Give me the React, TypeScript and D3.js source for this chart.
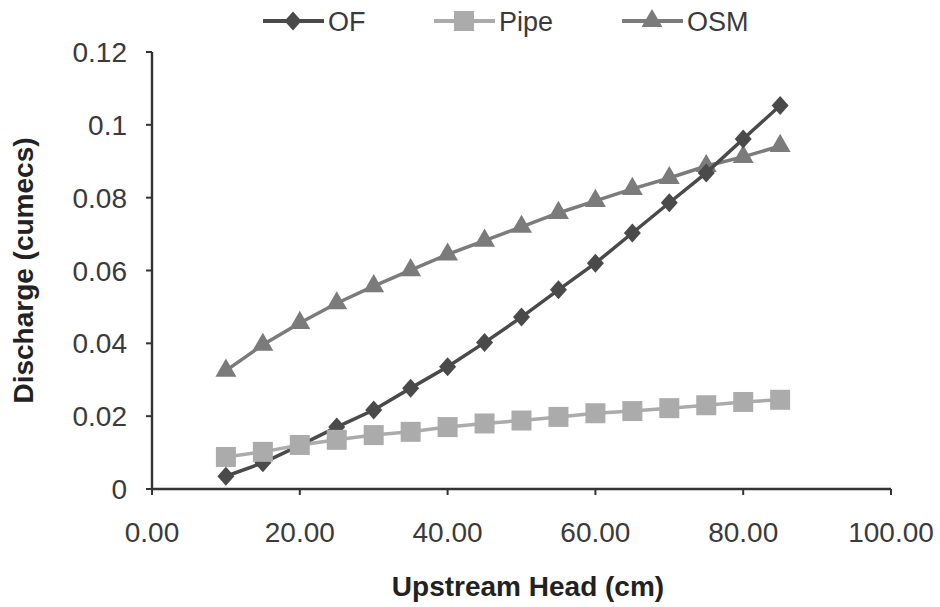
import React from "react";
import * as d3 from "d3";

const heads = [10, 15, 20, 25, 30, 35, 40, 45, 50, 55, 60, 65, 70, 75, 80, 85];
const ofValues = [0.0035, 0.0072, 0.012, 0.017, 0.0217, 0.0277, 0.0336, 0.0402, 0.0472, 0.0547, 0.062, 0.0703, 0.0786, 0.0868, 0.0961, 0.1053];
const pipeValues = [0.0088, 0.0102, 0.0121, 0.0135, 0.0148, 0.0157, 0.017, 0.018, 0.0188, 0.0198, 0.0208, 0.0214, 0.0222, 0.023, 0.0239, 0.0245];
const osmValues = [0.0325, 0.0396, 0.0456, 0.051, 0.0557, 0.0601, 0.0644, 0.0682, 0.072, 0.0758, 0.0791, 0.0824, 0.0854, 0.0887, 0.0912, 0.0942];
const xTicks = [0, 20, 40, 60, 80, 100];
const yTicks = [0, 0.02, 0.04, 0.06, 0.08, 0.1, 0.12];
const seriesNames = ["OF", "Pipe", "OSM"];

const W = 940, H = 607;
const left = 152, right = 891, top = 52, bottom = 489;
const font = "'Liberation Sans', Arial, sans-serif";

const colors: Record<string, string> = { OF: "#4a4a4a", Pipe: "#ababab", OSM: "#7b7b7b" };

function Marker({ kind, x, y }: { kind: string; x: number; y: number }) {
  const c = colors[kind];
  if (kind === "OF") {
    return <path d="M0,-9.5L8.5,0L0,9.5L-8.5,0Z" transform={`translate(${x},${y})`} fill={c} />;
  }
  if (kind === "Pipe") {
    const s = d3.symbol().type(d3.symbolSquare).size(400)();
    return <path d={s || ""} transform={`translate(${x},${y})`} fill={c} />;
  }
  const s = d3.symbol().type(d3.symbolTriangle).size(190)();
  return <path d={s || ""} transform={`translate(${x},${y})`} fill={c} />;
}

export default function App() {
  const x = d3.scaleLinear().domain([0, 100]).range([left, right]);
  const y = d3.scaleLinear().domain([0, 0.12]).range([bottom, top]);
  const line = d3.line<number>().x((_, i) => x(heads[i])).y((d) => y(d));
  const data: Record<string, number[]> = { OF: ofValues, Pipe: pipeValues, OSM: osmValues };
  const drawOrder = ["OSM", "OF", "Pipe"];
  const legendX: Record<string, number> = { OF: 263, Pipe: 434, OSM: 622 };

  return (
    <svg width={W} height={H} style={{ position: "absolute", left: 0, top: 0, background: "#fff" }}>
      <rect width={W} height={H} fill="#fff" />
      {/* axes */}
      <line x1={left} x2={left} y1={top} y2={bottom} stroke="#333" strokeWidth={2.4} />
      <line x1={left} x2={right} y1={bottom} y2={bottom} stroke="#333" strokeWidth={2.4} />
      {yTicks.map((t) => (
        <g key={"y" + t}>
          <line x1={left - 6} x2={left} y1={y(t)} y2={y(t)} stroke="#333" strokeWidth={2} />
          <text x={127} y={y(t)} dy="0.36em" textAnchor="end" fontFamily={font} fontSize={28} fill="#3a3a3a">
            {String(t)}
          </text>
        </g>
      ))}
      {xTicks.map((t) => (
        <g key={"x" + t}>
          <line x1={x(t)} x2={x(t)} y1={bottom} y2={bottom + 6} stroke="#333" strokeWidth={2} />
          <text x={x(t)} y={532} dy="0.36em" textAnchor="middle" fontFamily={font} fontSize={28} fill="#3a3a3a">
            {t.toFixed(2)}
          </text>
        </g>
      ))}
      <text x={528} y={586} dy="0.36em" textAnchor="middle" fontFamily={font} fontSize={28} fontWeight="bold" fill="#222">
        Upstream Head (cm)
      </text>
      <text transform={`translate(23,${(top + bottom) / 2}) rotate(-90)`} dy="0.36em" textAnchor="middle" fontFamily={font} fontSize={28} fontWeight="bold" fill="#222">
        Discharge (cumecs)
      </text>
      {/* series */}
      {drawOrder.map((name) => (
        <g key={name}>
          <path d={line(data[name]) || ""} fill="none" stroke={colors[name]} strokeWidth={3.5} />
          {data[name].map((v, i) => (
            <Marker key={i} kind={name} x={x(heads[i])} y={y(v)} />
          ))}
        </g>
      ))}
      {/* legend */}
      {seriesNames.map((name) => (
        <g key={"lg" + name}>
          <line x1={legendX[name]} x2={legendX[name] + 61} y1={21} y2={21} stroke={colors[name]} strokeWidth={4} />
          <Marker kind={name} x={legendX[name] + 30} y={21} />
          <text x={legendX[name] + 65} y={21} dy="0.36em" fontFamily={font} fontSize={27} fill="#3a3a3a">
            {name}
          </text>
        </g>
      ))}
    </svg>
  );
}
